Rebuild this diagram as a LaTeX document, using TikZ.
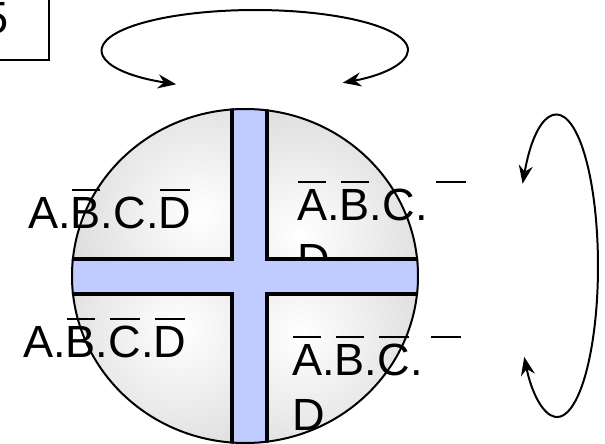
\documentclass[tikz,border=0pt]{standalone}
\usepackage{fontspec}
\setmainfont{Liberation Sans}
\usetikzlibrary{arrows.meta}
\definecolor{barblue}{RGB}{192,204,255}
\newsavebox\ovlbox
\newcommand{\ovl}[1]{\sbox\ovlbox{#1}\rlap{\hspace{1pt}\rule[32pt]{\dimexpr\wd\ovlbox-2pt\relax}{1.7pt}}\usebox\ovlbox}
\tikzset{
  term/.style={inner sep=0pt, anchor=base west, font=\fontsize{38.5}{46.8}\selectfont},
  rot/.style={line width=1.7pt, {Stealth[length=0.55cm,width=0.42cm,inset=0.18cm]}-{Stealth[length=0.55cm,width=0.42cm,inset=0.18cm]}},
  edge/.style={line width=3pt}
}

\begin{document}
\begin{tikzpicture}[x=0.03cm, y=-0.03cm]
  \useasboundingbox (0,0) rectangle (605,444);
  \clip (0,0) rectangle (605,444);
  % Quadranten
  \begin{scope}
    \clip (245,276) ellipse [x radius=173, y radius=167];
    \foreach \xa/\ya/\xb/\yb/\cx/\cy in {60/100/232/259/200/215, 267/100/430/259/300/235,
                                          60/294/232/450/180/330, 267/294/430/450/300/335}{
      \begin{scope}
        \clip (\xa,\ya) rectangle (\xb,\yb);
        \shade[inner color=white, outer color=gray!42] (\cx,\cy) ++(-210,-210) rectangle ++(420,420);
      \end{scope}
    }
  \end{scope}
  % Terme
  \node[term] (ul) at (28,228) {A.\ovl{B}.C.\ovl{D}};
  \node[term] (ur) at (297,220) {\ovl{A}.\ovl{B}.C.\,\ovl{\phantom{D}}};
  \node[term] (urd) at (297,275) {D};
  \node[term] (ll) at (23,357) {A.\ovl{B}.\ovl{C}.\ovl{D}};
  \node[term] (lr) at (292,375) {\ovl{A}.\ovl{B}.\ovl{C}.\,\ovl{\phantom{D}}};
  \node[term] (lrd) at (292,430) {D};
  % Balken
  \begin{scope}
    \clip (245,276) ellipse [x radius=174, y radius=168];
    \fill[barblue] (232,100) rectangle (267,450);
    \fill[barblue] (60,259) rectangle (430,294);
    \draw[edge] (232,100) -- (232,259) -- (60,259);
    \draw[edge] (267,100) -- (267,259) -- (430,259);
    \draw[edge] (60,294) -- (232,294) -- (232,450);
    \draw[edge] (430,294) -- (267,294) -- (267,450);
  \end{scope}
  \draw[line width=1.7pt] (245,276) ellipse [x radius=173, y radius=167];
  % Drehpfeile
  \coordinate (tl) at (176.2,84.3);
  \coordinate (rt) at (522.6,183.8);
  \draw[rot] (tl) arc[start angle=121, end angle=415, x radius=153, y radius=40];
  \draw[rot] (rt) arc[start angle=213, end angle=503, x radius=41, y radius=151];
  % Nummer
  \draw[line width=1.5pt] (-60,-20) rectangle (49,60);
  \node[term, anchor=base east] (five) at (9,33) {5};
\end{tikzpicture}
\end{document}
